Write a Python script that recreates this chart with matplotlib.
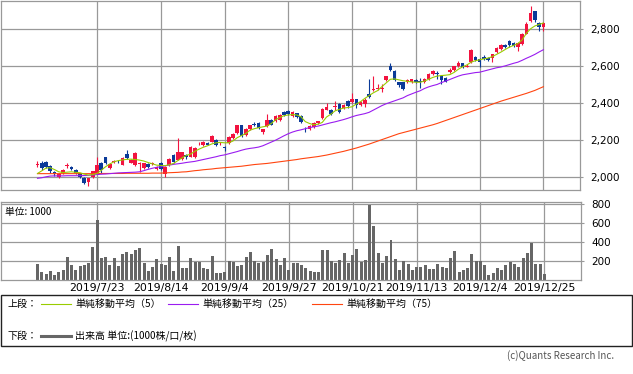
import matplotlib
matplotlib.use("Agg")
import matplotlib.pyplot as plt
from matplotlib.lines import Line2D
from matplotlib.patches import Rectangle
import numpy as np

plt.rcParams['font.family'] = ['DejaVu Sans', 'Noto Sans CJK JP']

# daily OHLC, 2019/7/2 - 2019/12/25 (120 trading days)
opens = [2068, 2080, 2084, 2060, 2030, 2004, 2026, 2060, 2057, 2039,
         2021, 1998, 1973, 2003, 2025, 2078, 2108, 2048, 2084, 2090,
         2068, 2126, 2080, 2066, 2072, 2048, 2070, 2074, 2046, 2078,
         2020, 2066, 2120, 2096, 2100, 2122, 2112, 2110, 2177, 2176,
         2186, 2192, 2200, 2178, 2166, 2186, 2210, 2240, 2280, 2226,
         2258, 2288, 2290, 2242, 2274, 2310, 2306, 2310, 2350, 2356,
         2330, 2344, 2332, 2262, 2260, 2270, 2290, 2318, 2364, 2364,
         2377, 2396, 2372, 2412, 2404, 2420, 2390, 2396, 2450, 2468,
         2476, 2478, 2526, 2598, 2574, 2512, 2512, 2512, 2512, 2526,
         2520, 2512, 2530, 2556, 2562, 2546, 2534, 2566, 2576, 2598,
         2614, 2596, 2620, 2646, 2638, 2650, 2642, 2644, 2674, 2692,
         2714, 2734, 2722, 2700, 2718, 2774, 2842, 2894, 2832, 2810]
highs = [2088, 2086, 2090, 2064, 2034, 2022, 2043, 2080, 2062, 2044,
         2025, 2002, 1998, 2036, 2110, 2082, 2112, 2075, 2096, 2096,
         2110, 2145, 2100, 2136, 2084, 2080, 2075, 2082, 2062, 2082,
         2062, 2102, 2124, 2210, 2138, 2126, 2168, 2162, 2190, 2196,
         2190, 2230, 2204, 2188, 2170, 2222, 2240, 2284, 2284, 2266,
         2284, 2296, 2296, 2262, 2342, 2314, 2338, 2342, 2356, 2362,
         2356, 2348, 2336, 2272, 2284, 2296, 2306, 2372, 2398, 2368,
         2412, 2400, 2396, 2416, 2454, 2424, 2410, 2426, 2530, 2548,
         2500, 2502, 2548, 2618, 2578, 2516, 2516, 2530, 2532, 2530,
         2534, 2536, 2560, 2576, 2574, 2550, 2538, 2586, 2602, 2624,
         2618, 2608, 2690, 2652, 2642, 2656, 2646, 2666, 2700, 2720,
         2718, 2740, 2726, 2730, 2778, 2834, 2922, 2898, 2836, 2836]
lows = [2056, 2042, 2052, 2024, 2010, 1996, 2020, 2052, 2040, 2016,
        1996, 1964, 1955, 1996, 2020, 2025, 2070, 2044, 2078, 2078,
        2064, 2098, 2075, 2060, 2030, 2044, 2052, 2068, 2040, 2040,
        2000, 2060, 2080, 2092, 2096, 2100, 2108, 2106, 2172, 2170,
        2172, 2188, 2170, 2172, 2142, 2182, 2206, 2236, 2218, 2220,
        2254, 2276, 2262, 2236, 2270, 2280, 2300, 2306, 2328, 2334,
        2326, 2320, 2290, 2244, 2254, 2264, 2286, 2314, 2360, 2338,
        2364, 2346, 2368, 2376, 2398, 2372, 2386, 2380, 2428, 2464,
        2470, 2460, 2520, 2572, 2520, 2488, 2468, 2506, 2506, 2506,
        2482, 2506, 2526, 2550, 2530, 2504, 2512, 2560, 2570, 2594,
        2588, 2592, 2616, 2624, 2594, 2632, 2626, 2620, 2668, 2686,
        2698, 2704, 2700, 2680, 2712, 2770, 2838, 2838, 2790, 2786]
closes = [2072, 2048, 2058, 2035, 2016, 2016, 2039, 2069, 2045, 2025,
          2004, 1968, 1994, 2033, 2068, 2040, 2075, 2070, 2088, 2086,
          2104, 2102, 2096, 2132, 2078, 2075, 2056, 2078, 2057, 2044,
          2058, 2098, 2084, 2136, 2134, 2108, 2164, 2158, 2182, 2192,
          2176, 2222, 2176, 2182, 2158, 2218, 2236, 2280, 2222, 2262,
          2280, 2284, 2268, 2258, 2310, 2284, 2333, 2338, 2334, 2342,
          2352, 2326, 2296, 2258, 2278, 2292, 2302, 2368, 2378, 2342,
          2386, 2350, 2390, 2382, 2422, 2390, 2404, 2418, 2432, 2476,
          2480, 2482, 2544, 2576, 2526, 2496, 2476, 2526, 2528, 2512,
          2512, 2530, 2556, 2570, 2558, 2522, 2516, 2580, 2598, 2615,
          2594, 2602, 2688, 2630, 2622, 2638, 2630, 2662, 2696, 2714,
          2702, 2710, 2706, 2722, 2774, 2828, 2886, 2846, 2808, 2830]

ma5 = [2021, 2035, 2050, 2052, 2042, 2030, 2026, 2028, 2030, 2027,
       2025, 2018, 2012, 2015, 2021, 2038, 2057, 2072, 2084, 2090,
       2094, 2097, 2098, 2096, 2093, 2088, 2080, 2073, 2066, 2064,
       2063, 2068, 2075, 2090, 2105, 2118, 2125, 2140, 2152, 2162,
       2170, 2180, 2186, 2188, 2186, 2186, 2196, 2214, 2225, 2236,
       2254, 2262, 2267, 2272, 2276, 2290, 2310, 2322, 2332, 2336,
       2338, 2336, 2326, 2300, 2290, 2283, 2286, 2296, 2325, 2340,
       2358, 2366, 2373, 2376, 2380, 2395, 2408, 2425, 2440, 2455,
       2467, 2488, 2508, 2528, 2530, 2525, 2520, 2517, 2514, 2512,
       2512, 2518, 2528, 2538, 2545, 2548, 2550, 2553, 2565, 2582,
       2595, 2605, 2620, 2628, 2633, 2638, 2642, 2650, 2662, 2674,
       2688, 2701, 2710, 2720, 2740, 2775, 2800, 2815, 2823, 2831]
ma25 = [1995, 1998, 2003, 2007, 2008, 2008, 2008, 2009, 2009, 2009,
        2009, 2010, 2011, 2013, 2015, 2017, 2018, 2020, 2022, 2024,
        2025, 2026, 2027, 2028, 2030, 2036, 2043, 2049, 2054, 2057,
        2062, 2066, 2070, 2073, 2076, 2080, 2083, 2086, 2091, 2096,
        2101, 2106, 2111, 2117, 2121, 2127, 2133, 2139, 2146, 2152,
        2156, 2159, 2163, 2170, 2180, 2190, 2200, 2212, 2224, 2235,
        2244, 2251, 2256, 2262, 2268, 2272, 2276, 2282, 2288, 2294,
        2299, 2305, 2311, 2318, 2326, 2333, 2338, 2343, 2350, 2362,
        2374, 2386, 2396, 2404, 2412, 2420, 2428, 2440, 2449, 2458,
        2466, 2478, 2487, 2494, 2500, 2510, 2518, 2527, 2536, 2545,
        2552, 2556, 2560, 2564, 2566, 2572, 2578, 2584, 2590, 2594,
        2600, 2607, 2614, 2620, 2630, 2641, 2651, 2662, 2675, 2687]
ma75 = [2020, 2020, 2020, 2020, 2020, 2020, 2020, 2020, 2020, 2020,
        2020, 2020, 2020, 2020, 2020, 2021, 2021, 2021, 2021, 2021,
        2021, 2022, 2022, 2022, 2022, 2022, 2022, 2023, 2023, 2023,
        2024, 2025, 2026, 2027, 2029, 2030, 2033, 2036, 2038, 2041,
        2043, 2045, 2048, 2050, 2052, 2054, 2056, 2058, 2060, 2063,
        2066, 2069, 2071, 2073, 2075, 2078, 2081, 2084, 2087, 2090,
        2093, 2096, 2100, 2103, 2106, 2109, 2112, 2116, 2120, 2125,
        2130, 2135, 2140, 2146, 2152, 2158, 2165, 2172, 2179, 2187,
        2195, 2203, 2211, 2219, 2227, 2235, 2241, 2247, 2253, 2259,
        2265, 2271, 2277, 2283, 2290, 2298, 2306, 2314, 2322, 2330,
        2338, 2346, 2354, 2362, 2370, 2378, 2386, 2394, 2402, 2410,
        2417, 2424, 2431, 2438, 2445, 2452, 2460, 2468, 2478, 2488]

# volume, 1000 shares
volume = [172, 88, 67, 98, 56, 88, 109, 246, 161, 109,
          151, 161, 183, 351, 635, 235, 246, 161, 235, 151,
          277, 298, 277, 319, 340, 183, 98, 140, 225, 172,
          161, 246, 98, 362, 130, 130, 235, 193, 193, 130,
          119, 256, 77, 77, 88, 204, 193, 151, 161, 246,
          298, 204, 183, 193, 267, 330, 225, 161, 235, 109,
          183, 183, 161, 130, 98, 88, 88, 319, 319, 204,
          183, 214, 288, 183, 267, 330, 193, 214, 790, 572,
          288, 183, 256, 425, 225, 109, 204, 172, 109, 140,
          140, 161, 119, 119, 172, 140, 130, 235, 309, 88,
          109, 130, 277, 204, 204, 161, 56, 77, 130, 109,
          161, 193, 172, 140, 235, 288, 393, 172, 172, 67]

tick_pos = [14, 29, 44, 59, 74, 89, 104, 119]
tick_labels = ['2019/7/23', '2019/8/14', '2019/9/4', '2019/9/27',
               '2019/10/21', '2019/11/13', '2019/12/4', '2019/12/25']

UP = '#f2133f'
DOWN = '#0b3a98'
GRID = '#999999'
W, H = 633, 374


def fx(x):
    return x / W


def fy(y):
    return 1 - y / H


x = np.arange(len(closes))
o, h, l, c = map(np.array, (opens, highs, lows, closes))
up = c >= o
colors = np.where(up, UP, DOWN)

fig = plt.figure(figsize=(6.33, 3.74), dpi=100)
ax1 = fig.add_axes([fx(0.5), fy(190), fx(579), 189.5 / H])
ax2 = fig.add_axes([fx(0.5), fy(280.3), fx(580), 78.3 / H])

for ax in (ax1, ax2):
    ax.set_xlim(-8.7, 127.5)
    ax.set_xticks(tick_pos)
    ax.grid(True, color=GRID, lw=0.9)
    ax.set_axisbelow(True)
    for s in ax.spines.values():
        s.set_color(GRID)
        s.set_linewidth(0.9)
    ax.yaxis.tick_right()
    ax.tick_params(axis='y', length=2, color=GRID, labelsize=7.5, pad=6)
    ax.tick_params(axis='x', length=0)

# price panel
ax1.vlines(x, l, h, colors=colors, lw=0.8)
body = np.maximum(np.abs(c - o), 4)
ax1.bar(x, body, bottom=np.minimum(o, c), width=0.85, color=colors, lw=0)
ax1.plot(x, ma75, color='#ff4510', lw=0.8)
ax1.plot(x, ma25, color='#9a1cf0', lw=0.8)
ax1.plot(x, ma5, color='#99cc00', lw=0.8)
ax1.set_ylim(1932, 2952)
ax1.set_yticks([2000, 2200, 2400, 2600, 2800])
ax1.set_yticklabels(['2,000', '2,200', '2,400', '2,600', '2,800'])
ax1.set_xticklabels([])

# volume panel
ax2.bar(x, volume, width=0.7, color='#666666', lw=0)
ax2.set_ylim(0, 825)
ax2.set_yticks([200, 400, 600, 800])
ax2.set_xticklabels(tick_labels, fontsize=7.8)
ax2.tick_params(axis='x', pad=2)
ax2.text(0.008, 0.93, '単位: 1000', transform=ax2.transAxes, fontsize=7,
         va='top', ha='left', family=['Noto Sans CJK JP', 'DejaVu Sans'])

# legend box
jp = ['Noto Sans CJK JP', 'DejaVu Sans']
fig.patches.append(Rectangle((fx(0.5), fy(346)), fx(631.5), 51 / H,
                             transform=fig.transFigure, fill=False,
                             edgecolor='#222222', lw=1))
fig.text(fx(8), fy(304), '上段：', fontsize=7.2, va='center', family=jp)
fig.text(fx(8), fy(336), '下段：', fontsize=7.2, va='center', family=jp)
ma_items = [(41, '#99cc00', '単純移動平均（5）'),
            (168, '#9a1cf0', '単純移動平均（25）'),
            (312, '#ff4510', '単純移動平均（75）')]
for lx, col, txt in ma_items:
    fig.lines.append(Line2D([fx(lx), fx(lx + 30)], [fy(303.5)] * 2,
                            transform=fig.transFigure, color=col, lw=0.8))
    fig.text(fx(lx + 34), fy(304), txt, fontsize=7.2, va='center', family=jp)
fig.lines.append(Line2D([fx(41), fx(71)], [fy(336)] * 2,
                        transform=fig.transFigure, color='#666666', lw=2.2))
fig.text(fx(75), fy(336), '出来高 単位:(1000株/口/枚)', fontsize=7.2,
         va='center', family=jp)
fig.text(fx(614), fy(356), '(c)Quants Research Inc.', fontsize=7,
         ha='right', va='center', color='#555555', family=jp)

fig.savefig('out.png', dpi=100)
